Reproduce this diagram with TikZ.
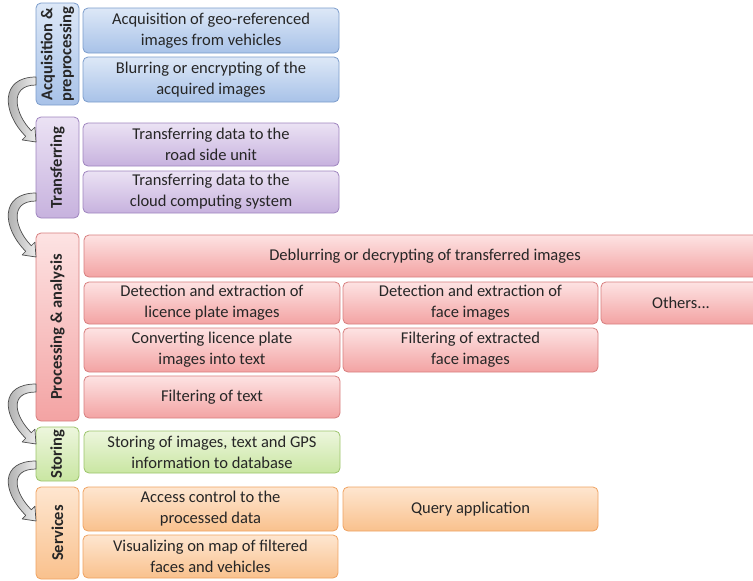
\documentclass[tikz,border=0pt]{standalone}
\usepackage{fontspec}
\setmainfont{Carlito}
\definecolor{bl1}{HTML}{DDE8F7}\definecolor{bl2}{HTML}{A8C2E8}\definecolor{bl3}{HTML}{7B9CCB}
\definecolor{pu1}{HTML}{EBE2F4}\definecolor{pu2}{HTML}{C7B2DE}\definecolor{pu3}{HTML}{9E84BE}
\definecolor{re1}{HTML}{FDE3E3}\definecolor{re2}{HTML}{F3A3A3}\definecolor{re3}{HTML}{D77E7E}
\definecolor{gr1}{HTML}{EDF6DD}\definecolor{gr2}{HTML}{C9E6A2}\definecolor{gr3}{HTML}{9CC46B}
\definecolor{or1}{HTML}{FEE6D0}\definecolor{or2}{HTML}{F9C18D}\definecolor{or3}{HTML}{EFA261}
\tikzset{
  box/.style={rounded corners=5pt, line width=0.8pt, align=center, inner sep=2pt, outer sep=0pt, text=black!85, font=\fontsize{16.5}{21}\selectfont},
  bluebox/.style={box, top color=bl1, bottom color=bl2, draw=bl3},
  purplebox/.style={box, top color=pu1, bottom color=pu2, draw=pu3},
  redbox/.style={box, top color=re1, bottom color=re2, draw=re3},
  greenbox/.style={box, top color=gr1, bottom color=gr2, draw=gr3},
  orangebox/.style={box, top color=or1, bottom color=or2, draw=or3},
  lab/.style={font=\bfseries\fontsize{16.5}{19}\selectfont},
  garrow/.style={draw=black!70, line width=0.7pt, left color=gray!75, right color=gray!15, line join=round},
}
\newcommand\cbox[7]{\node[#6, minimum width={(#3-#1)*1pt}, minimum height={(#4-#2)*1pt}] (#5) at ({(#1+#3)/2},{(#2+#4)/2}) {#7};}
\newcommand\labbox[7]{\node[#6, lab, rotate=90, minimum width={(#4-#2)*1pt}, minimum height={(#3-#1)*1pt}] (#5) at ({(#1+#3)/2},{(#2+#4)/2}) {#7};}
\newcommand\garr[2]{\path[garrow] (36,#1-4) .. controls (0,#1-4) and (1.7,#2-29.7) .. (25.7,#2-5.7) -- (22.1,#2-2.1) -- (36,#2) -- (34.9,#2-14.9) -- (31.3,#2-11.3) .. controls (15.3,#2-27.3) and (8,#1+4) .. (36,#1+4) -- cycle;}
\begin{document}
\begin{tikzpicture}[x=1pt,y=-1pt]
\useasboundingbox (0,0) rectangle (753,581);
% category labels
\labbox{36}{3}{79}{105}{acq}{bluebox}{Acquisition \&\\preprocessing}
\labbox{36}{117}{79}{218}{tra}{purplebox}{Transferring}
\labbox{36}{233}{79}{421}{pro}{redbox}{Processing \& analysis}
\labbox{36}{427}{79}{481}{sto}{greenbox}{Storing}
\labbox{36}{487}{79}{579}{ser}{orangebox}{Services}
% content boxes
\cbox{83}{8}{339}{53}{a1}{bluebox}{Acquisition of geo-referenced\\images from vehicles}
\cbox{83}{57}{339}{102}{a2}{bluebox}{Blurring or encrypting of the\\acquired images}
\cbox{83}{123}{339}{166}{t1}{purplebox}{Transferring data to the\\road side unit}
\cbox{83}{171}{339}{213}{t2}{purplebox}{Transferring data to the\\cloud computing system}
\cbox{84}{235}{766}{277}{p1}{redbox}{Deblurring or decrypting of transferred images}
\cbox{84}{282}{340}{324}{p2}{redbox}{Detection and extraction of\\licence plate images}
\cbox{343}{282}{598}{324}{p3}{redbox}{Detection and extraction of\\face images}
\cbox{601}{282}{761}{324}{p4}{redbox}{Others...}
\cbox{84}{328}{340}{372}{p5}{redbox}{Converting licence plate\\images into text}
\cbox{343}{328}{598}{372}{p6}{redbox}{Filtering of extracted\\face images}
\cbox{84}{376}{340}{418}{p7}{redbox}{Filtering of text}
\cbox{84}{431}{340}{473}{s1}{greenbox}{Storing of images, text and GPS\\information to database}
\cbox{83}{487}{338}{531}{v1}{orangebox}{Access control to the\\processed data}
\cbox{343}{487}{598}{531}{v2}{orangebox}{Query application}
\cbox{83}{535}{338}{578}{v3}{orangebox}{Visualizing on map of filtered\\faces and vehicles}
% curved arrows
\garr{81}{142}
\garr{197}{257}
\garr{388}{444}
\garr{465}{521}
\end{tikzpicture}
\end{document}
